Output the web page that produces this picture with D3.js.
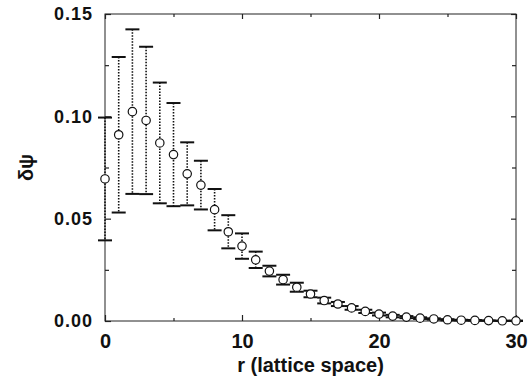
<!DOCTYPE html>
<html><head><meta charset="utf-8">
<script src="https://cdn.jsdelivr.net/npm/d3@7"></script>
<style>body{margin:0;background:#fff}svg{display:block}text{font-family:"Liberation Sans",Arial,sans-serif;font-weight:bold;fill:#111}</style>
</head><body><div id="chart"></div>
<script>
const rValues = [0,1,2,3,4,5,6,7,8,9,10,11,12,13,14,15,16,17,18,19,20,21,22,23,24,25,26,27,28,29,30];
const psiValues = [0.0694,0.0910,0.1023,0.0980,0.0870,0.0813,0.0719,0.0664,0.0544,0.0436,0.0366,0.0299,0.0244,0.0202,0.0165,0.0132,0.0100,0.0083,0.0064,0.0047,0.0034,0.0024,0.0019,0.0014,0.0010,0.0006,0.0004,0.0003,0.0002,0.0001,0.0001];
const errValues = [0.0300,0.0380,0.0402,0.0360,0.0295,0.0252,0.0154,0.0119,0.0101,0.0081,0.0062,0.0040,0.0026,0.0024,0.0022,0.0016,0.0014,0.0010,0.0009,0.0008,0.0007,0.0006,0.0005,0.0004,0.0003,0.0003,0.0002,0.0002,0.0001,0.0001,0.0001];
const xTicks = [0,10,20,30];
const yTicks = [0.00,0.05,0.10,0.15];
const xMinor = [5,15,25];
const yMinor = [0.025,0.075,0.125];

(function(){
const W=529,H=381, m={left:105,right:13,top:14,bottom:60};
const svg=d3.select("#chart").append("svg").attr("width",W).attr("height",H);
const x=d3.scaleLinear().domain([0,30]).range([m.left,W-m.right]);
const y=d3.scaleLinear().domain([0,0.15]).range([H-m.bottom,m.top]);
const g=svg.append("g");

g.append("rect").attr("x",x(0)).attr("y",y(0.15)).attr("width",x(30)-x(0)).attr("height",y(0)-y(0.15))
 .attr("fill","none").attr("stroke","#222").attr("stroke-width",1);

const gb=g.append("g").attr("transform",`translate(0,${y(0)})`)
 .call(d3.axisBottom(x).tickValues(xTicks).tickSize(-6).tickPadding(12).tickFormat(d3.format("d")));
const gl=g.append("g").attr("transform",`translate(${x(0)},0)`)
 .call(d3.axisLeft(y).tickValues(yTicks).tickSize(-6).tickPadding(12).tickFormat(d3.format(".2f")));
g.append("g").attr("transform",`translate(0,${y(0.15)})`).call(d3.axisTop(x).tickValues(xTicks).tickSize(-5).tickFormat(""));
g.append("g").attr("transform",`translate(${x(30)},0)`).call(d3.axisRight(y).tickValues(yTicks).tickSize(-5).tickFormat(""));
g.append("g").attr("transform",`translate(0,${y(0)})`).call(d3.axisBottom(x).tickValues(xMinor).tickSize(-3).tickFormat(""));
g.append("g").attr("transform",`translate(0,${y(0.15)})`).call(d3.axisTop(x).tickValues(xMinor).tickSize(-3).tickFormat(""));
g.append("g").attr("transform",`translate(${x(0)},0)`).call(d3.axisLeft(y).tickValues(yMinor).tickSize(-4).tickFormat(""));
g.append("g").attr("transform",`translate(${x(30)},0)`).call(d3.axisRight(y).tickValues(yMinor).tickSize(-4).tickFormat(""));
g.selectAll(".domain").remove();
g.selectAll(".tick line").attr("stroke","#222").attr("stroke-width",1.2);
gb.selectAll(".tick text").style("font-size","20px").attr("fill","#111").attr("dy","0.75em");
gl.selectAll(".tick text").style("font-size","18px").style("letter-spacing","1px").attr("fill","#111");

const data=rValues.map((r,i)=>({r,v:psiValues[i],e:errValues[i]}));
const eb=g.append("g");
eb.selectAll("line.v").data(data).join("line").attr("class","v")
 .attr("x1",d=>x(d.r)).attr("x2",d=>x(d.r)).attr("y1",d=>y(d.v+d.e)).attr("y2",d=>y(d.v-d.e))
 .attr("stroke","#111").attr("stroke-width",1.6).attr("stroke-dasharray","1.5,1.5");
["capT","capB"].forEach(k=>{
 eb.selectAll("line."+k).data(data).join("line").attr("class",k)
  .attr("x1",d=>x(d.r)-7).attr("x2",d=>x(d.r)+7)
  .attr("y1",d=>y(k==="capT"?d.v+d.e:d.v-d.e)).attr("y2",d=>y(k==="capT"?d.v+d.e:d.v-d.e))
  .attr("stroke","#111").attr("stroke-width",2);
});
g.append("g").selectAll("circle").data(data).join("circle")
 .attr("cx",d=>x(d.r)).attr("cy",d=>y(d.v)).attr("r",4.2)
 .attr("fill","#fff").attr("stroke","#111").attr("stroke-width",1.2);

svg.append("text").attr("x",(x(0)+x(30))/2).attr("y",372).attr("text-anchor","middle")
 .style("font-size","20px").text("r (lattice space)");
svg.append("text").attr("transform",`translate(33,${(y(0)+y(0.15))/2}) rotate(-90)`).attr("text-anchor","middle")
 .style("font-size","20px").text("δψ");
})();
</script></body></html>
